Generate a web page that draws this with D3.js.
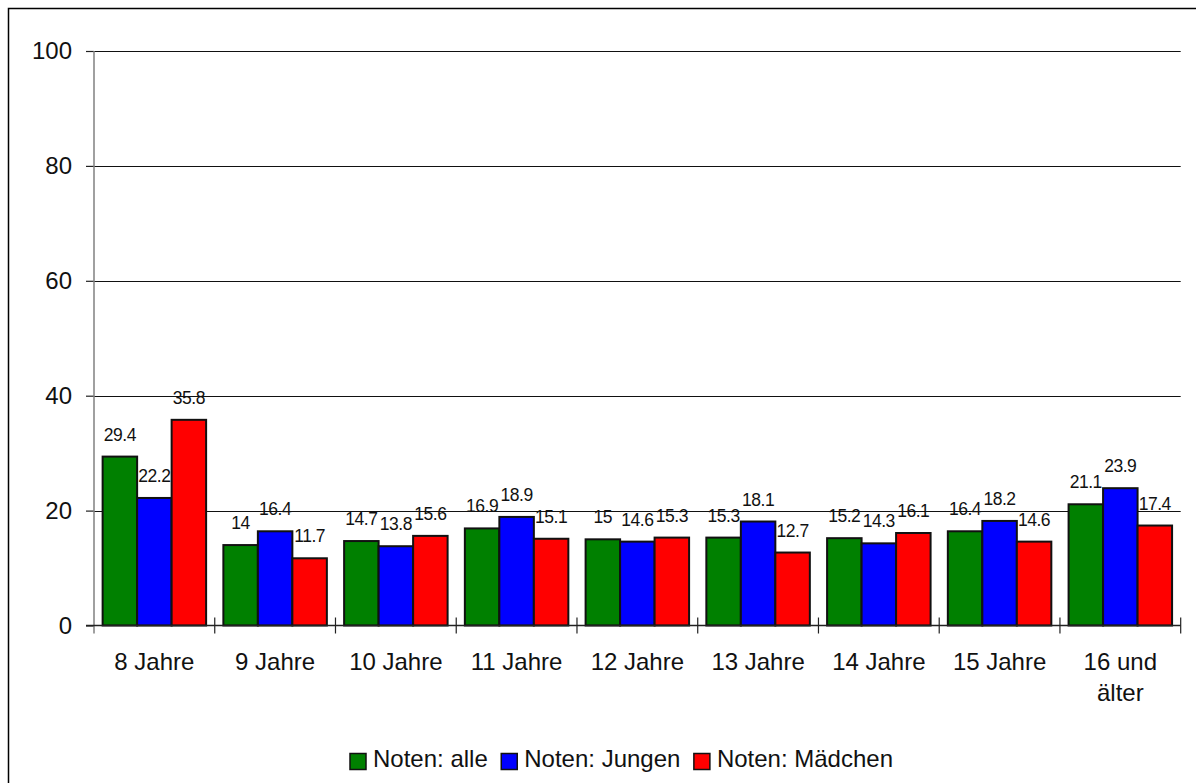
<!DOCTYPE html>
<html>
<head>
<meta charset="utf-8">
<script src="https://cdn.jsdelivr.net/npm/d3@7"></script>
<style>
  html, body { margin: 0; padding: 0; background: #fff; }
  svg { display: block; font-family: "Liberation Sans", Arial, sans-serif; }
</style>
</head>
<body>
<svg id="chart" width="1196" height="783"></svg>
<script>
// Age groups on the x axis
const categories = ["8 Jahre", "9 Jahre", "10 Jahre", "11 Jahre", "12 Jahre", "13 Jahre", "14 Jahre", "15 Jahre", "16 und älter"];
// Series values (percent)
const notenAlle     = [29.4, 14, 14.7, 16.9, 15, 15.3, 15.2, 16.4, 21.1];
const notenJungen   = [22.2, 16.4, 13.8, 18.9, 14.6, 18.1, 14.3, 18.2, 23.9];
const notenMaedchen = [35.8, 11.7, 15.6, 15.1, 15.3, 12.7, 16.1, 14.6, 17.4];
const seriesNames   = ["Noten: alle", "Noten: Jungen", "Noten: Mädchen"];
const seriesColors  = ["#008000", "#0000ff", "#ff0000"];
const yTicks        = [0, 20, 40, 60, 80, 100];

const series = [notenAlle, notenJungen, notenMaedchen];

const svg = d3.select("#chart");

// outer chart frame (runs past the right and bottom edges)
svg.append("rect")
  .attr("x", 8.5).attr("y", 8.5)
  .attr("width", 1190).attr("height", 780)
  .attr("fill", "none").attr("stroke", "#000").attr("stroke-width", 1.5);

const plotLeft = 94, plotRight = 1180.7, plotTop = 51, plotBottom = 625.5;

const x = d3.scaleBand()
  .domain(categories)
  .range([plotLeft, plotRight])
  .paddingInner(1 / 7)
  .paddingOuter(1 / 14);

const xInner = d3.scaleBand()
  .domain(d3.range(series.length))
  .range([0, x.bandwidth()]);

const y = d3.scaleLinear().domain([0, 100]).range([plotBottom, plotTop]);

// horizontal gridlines
svg.append("g")
  .selectAll("line")
  .data(yTicks.filter(t => t > 0))
  .join("line")
  .attr("x1", plotLeft).attr("x2", plotRight)
  .attr("y1", d => Math.round(y(d)) + 0.5).attr("y2", d => Math.round(y(d)) + 0.5)
  .attr("stroke", "#111").attr("stroke-width", 1);

// y axis
const yAxis = svg.append("g")
  .attr("transform", `translate(${plotLeft},0)`)
  .call(d3.axisLeft(y).tickValues(yTicks).tickSize(8).tickPadding(14).tickFormat(d3.format("d")));
yAxis.select(".domain").remove();
yAxis.selectAll(".tick line").attr("stroke", "#222").attr("stroke-width", 1.2);
yAxis.selectAll(".tick text")
  .attr("font-size", 24).attr("fill", "#111")
  .attr("font-family", "Liberation Sans, Arial, sans-serif");
svg.append("line")
  .attr("x1", plotLeft).attr("x2", plotLeft)
  .attr("y1", plotTop).attr("y2", plotBottom + 8)
  .attr("stroke", "#808080").attr("stroke-width", 1.5);

// bars
const groups = svg.append("g")
  .selectAll("g")
  .data(categories)
  .join("g")
  .attr("transform", d => `translate(${x(d)},0)`);

groups.selectAll("rect")
  .data((d, i) => series.map((s, k) => ({ k, v: s[i] })))
  .join("rect")
  .attr("x", d => xInner(d.k))
  .attr("width", xInner.bandwidth())
  .attr("y", d => y(d.v))
  .attr("height", d => y(0) - y(d.v))
  .attr("fill", d => seriesColors[d.k])
  .attr("stroke", "#111").attr("stroke-width", 2);

// value labels
groups.selectAll("text")
  .data((d, i) => series.map((s, k) => ({ k, v: s[i] })))
  .join("text")
  .attr("x", d => xInner(d.k) + xInner.bandwidth() / 2)
  .attr("y", d => y(d.v) - 16)
  .attr("text-anchor", "middle")
  .attr("font-size", 17.5)
  .attr("letter-spacing", -0.5)
  .attr("fill", "#111")
  .text(d => String(d.v));

// x axis
svg.append("line")
  .attr("x1", plotLeft - 8).attr("x2", plotRight)
  .attr("y1", plotBottom).attr("y2", plotBottom)
  .attr("stroke", "#222").attr("stroke-width", 1.5);

const boundaries = categories.map(c => x(c) - x.step() * x.paddingOuter()).concat([plotRight]);
svg.append("g")
  .selectAll("line")
  .data(boundaries.slice(1))
  .join("line")
  .attr("x1", d => d).attr("x2", d => d)
  .attr("y1", plotBottom - 8).attr("y2", plotBottom + 8)
  .attr("stroke", "#222").attr("stroke-width", 1.2);

// category labels (the last one wraps after "und")
const catLabels = svg.append("g")
  .selectAll("text")
  .data(categories)
  .join("text")
  .attr("x", d => x(d) + x.bandwidth() / 2)
  .attr("y", plotBottom + 44)
  .attr("text-anchor", "middle")
  .attr("font-size", 24)
  .attr("fill", "#111");

catLabels.each(function (d) {
  const lines = d.includes(" und ") ? ["16 und", "älter"] : [d];
  const t = d3.select(this);
  lines.forEach((ln, i) => {
    t.append("tspan")
      .attr("x", x(d) + x.bandwidth() / 2)
      .attr("dy", i === 0 ? 0 : 31)
      .text(ln);
  });
});

// legend
const legend = svg.append("g").attr("transform", "translate(350,753.5)");
let lx = 0;
seriesNames.forEach((name, i) => {
  legend.append("rect")
    .attr("x", lx).attr("y", 0)
    .attr("width", 16).attr("height", 16)
    .attr("fill", seriesColors[i])
    .attr("stroke", "#111").attr("stroke-width", 1.5);
  const txt = legend.append("text")
    .attr("x", lx + 23).attr("y", 13.5)
    .attr("font-size", 24)
    .attr("fill", "#111")
    .text(name);
  lx += 23 + txt.node().getComputedTextLength() + 13.5;
});
</script>
</body>
</html>
